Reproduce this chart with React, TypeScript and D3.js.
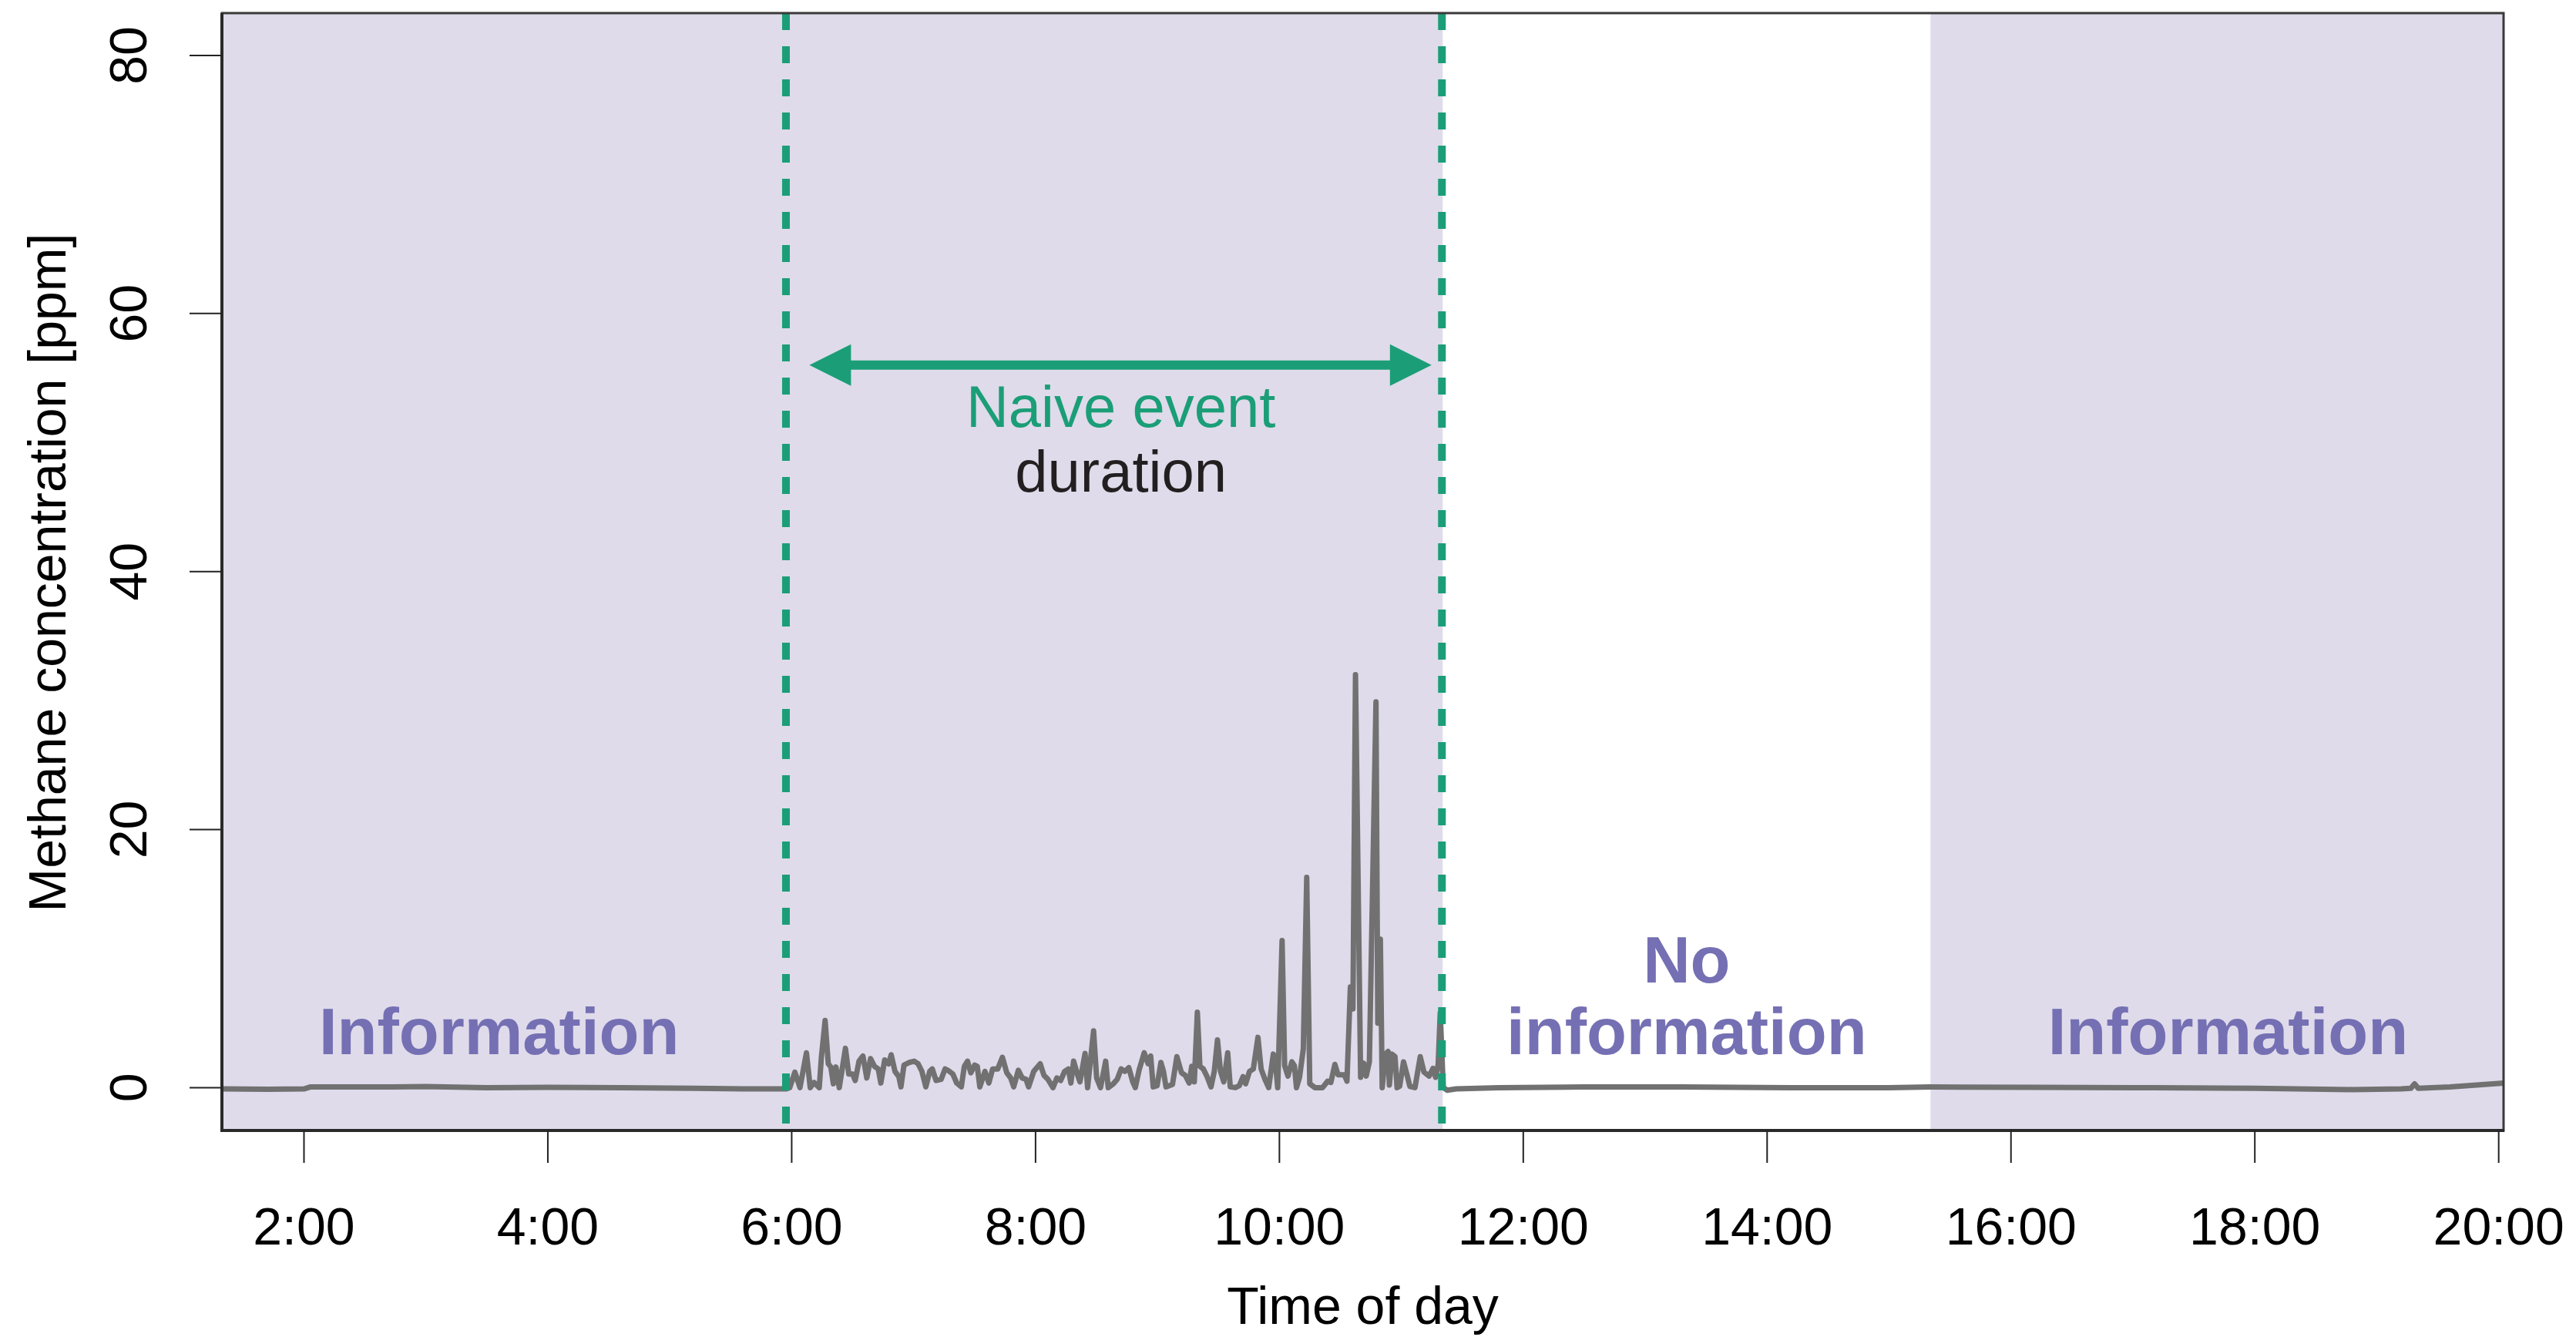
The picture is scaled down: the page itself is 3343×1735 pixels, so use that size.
import React from "react";
import * as d3 from "d3";

// ---- data ----
const xTickHours = [2, 4, 6, 8, 10, 12, 14, 16, 18, 20];
const xTickLabels = ["2:00", "4:00", "6:00", "8:00", "10:00", "12:00", "14:00", "16:00", "18:00", "20:00"];
const yTicks = [0, 20, 40, 60, 80];

// time of day (decimal hours) and methane concentration (ppm)
const timeHours = [
  1.327, 1.7, 2.0, 2.05, 2.6, 3.0, 3.5, 4.0, 4.6, 5.2, 5.6, 5.953,
  5.984, 6.026, 6.068, 6.121, 6.152, 6.184, 6.226, 6.243, 6.274, 6.3, 6.321, 6.342, 6.363, 6.39,
  6.441, 6.468, 6.5, 6.521, 6.552, 6.584, 6.616, 6.647, 6.679, 6.71, 6.731, 6.763, 6.795, 6.816,
  6.847, 6.879, 6.896, 6.921, 6.963, 7.005, 7.037, 7.068, 7.1, 7.132, 7.153, 7.184, 7.226, 7.258,
  7.28, 7.322, 7.353, 7.391, 7.416, 7.442, 7.469, 7.501, 7.522, 7.543, 7.585, 7.617, 7.648, 7.69,
  7.728, 7.764, 7.796, 7.821, 7.859, 7.89, 7.922, 7.943, 7.985, 8.038, 8.069, 8.101, 8.143, 8.175,
  8.206, 8.238, 8.269, 8.29, 8.312, 8.343, 8.364, 8.406, 8.427, 8.476, 8.501, 8.533, 8.575, 8.596,
  8.638, 8.67, 8.702, 8.733, 8.765, 8.797, 8.818, 8.849, 8.891, 8.923, 8.944, 8.965, 8.997, 9.028,
  9.049, 9.07, 9.123, 9.159, 9.197, 9.228, 9.26, 9.281, 9.302, 9.327, 9.348, 9.376, 9.407, 9.439,
  9.466, 9.492, 9.517, 9.544, 9.576, 9.597, 9.639, 9.671, 9.702, 9.723, 9.755, 9.786, 9.824, 9.85,
  9.881, 9.912, 9.95, 9.965, 9.986, 10.022, 10.043, 10.07, 10.102, 10.123, 10.14, 10.165, 10.196,
  10.224, 10.249, 10.291, 10.354, 10.396, 10.422, 10.455, 10.481, 10.533, 10.554, 10.582, 10.603,
  10.624, 10.666, 10.691, 10.712, 10.738, 10.792, 10.807, 10.828, 10.843, 10.87, 10.891, 10.902,
  10.923, 10.948, 10.965, 10.986, 11.018, 11.049, 11.07, 11.112, 11.155, 11.186, 11.228, 11.26,
  11.281, 11.302, 11.319, 11.344, 11.376,
  11.45, 11.8, 12.5, 13.3, 14.2, 15.0, 15.34, 16.2, 17.0, 18.0, 18.8, 19.2, 19.28, 19.31, 19.34,
  19.6, 20.04,
];
const methanePpm = [
  -0.1, -0.12, -0.1, 0.05, 0.05, 0.08, 0.0, 0.02, 0.0, -0.05, -0.1, -0.1,
  0.0, 1.2, 0.0, 2.7, 0.0, 0.4, 0.0, 2.3, 5.2, 1.85, 1.6, 0.3, 1.6, 0.0,
  3.05, 1.05, 1.05, 0.55, 2.05, 2.45, 0.75, 2.25, 1.65, 1.45, 0.36, 2.15, 1.85, 2.55,
  1.26, 0.85, 0.06, 1.75, 1.95, 2.05, 1.85, 1.26, 0.06, 1.26, 1.45, 0.55, 0.65, 1.45,
  1.35, 1.05, 0.36, 0.06, 1.65, 2.05, 1.15, 1.75, 1.65, 0.06, 1.26, 0.36, 1.45, 1.45,
  2.35, 1.15, 0.75, 0.06, 1.35, 0.75, 0.65, 0.06, 1.26, 1.85, 0.95, 0.65, 0.0, 0.75,
  0.55, 1.26, 1.45, 0.36, 2.05, 1.05, 0.45, 2.65, 0.0, 4.4, 0.75, 0.0, 2.05, 0.0,
  0.3, 0.65, 1.45, 1.26, 1.55, 0.45, 0.0, 1.35, 2.7, 1.85, 2.45, 0.06, 0.15, 1.95,
  1.26, 0.06, 0.25, 2.4, 1.15, 0.95, 0.36, 1.65, 0.45, 5.85, 1.65, 1.45, 0.85, 0.06,
  1.26, 3.7, 1.26, 0.45, 2.7, 0.06, 0.0, 0.15, 0.85, 0.3, 1.26, 1.45, 3.9, 1.45,
  0.65, 0.0, 2.6, 2.2, 0.0, 11.4, 1.7, 0.9, 2.0, 1.7, 0.0, 0.8, 3.0,
  16.3, 0.3, 0.0, 0.0, 0.5, 0.4, 1.8, 1.0, 1.0, 0.5, 7.8, 6.1,
  32.0, 0.8, 1.9, 0.9, 2.0, 29.9, 5.0, 11.5, 0.0, 2.6, 2.8, 0.2,
  2.6, 2.4, 0.0, 0.1, 2.0, 0.9, 0.1, 0.0, 2.4, 1.2, 0.9, 1.5,
  0.8, 1.8, 5.8, 0.0, -0.2,
  -0.1, 0.0, 0.05, 0.05, 0.0, 0.0, 0.05, 0.02, 0.0, -0.05, -0.15, -0.1, -0.05, 0.3, -0.05,
  0.05, 0.35,
];

// shaded "information" periods (hours)
const infoPeriods = [
  [1.327, 11.333],
  [15.34, 20.04],
];
const eventStart = 5.953;
const eventEnd = 11.333;
const arrowFrom = 6.145;
const arrowTo = 11.248;
const arrowPpm = 56;

const regionLabels = [
  { lines: ["Information"], hour: 3.6, ppm: [2.57] },
  { lines: ["No", "information"], hour: 13.34, ppm: [8.13, 2.57] },
  { lines: ["Information"], hour: 17.78, ppm: [2.57] },
];

// ---- layout ----
const W = 3343;
const H = 1735;
const L = 288, R = 3249, T = 17, B = 1467;
const FONT = "'Liberation Sans', Arial, Helvetica, sans-serif";
const SHADE = "#DFDBEA";
const PURPLE = "#7570B3";
const GREEN = "#1B9E77";
const LINE = "#717171";

export default function App() {
  const x = d3.scaleLinear().domain([1.327, 20.04]).range([L, R]);
  const y = d3.scaleLinear().domain([-3.32, 83.28]).range([B, T]);

  const pts: [number, number][] = timeHours.map((t, i) => [t, methanePpm[i]]);
  const line = d3
    .line<[number, number]>()
    .x((d) => x(d[0]))
    .y((d) => y(d[1]));

  const ay = y(arrowPpm);
  const ax1 = x(arrowFrom);
  const ax2 = x(arrowTo);
  const headL = 54;
  const headH = 27;
  const midX = x(8.7);

  return (
    <div>
      <style>{"body{margin:0}"}</style>
      <svg width={W} height={H} style={{ display: "block", background: "#fff" }} fontFamily={FONT}>
        <defs>
          <clipPath id="plotclip">
            <rect x={L} y={T} width={R - L} height={B - T} />
          </clipPath>
        </defs>
        {infoPeriods.map((p, i) => (
          <rect key={i} x={x(p[0])} y={T} width={x(p[1]) - x(p[0]) + (i === 0 ? 1 : 0)} height={B - T} fill={SHADE} />
        ))}

        {regionLabels.map((r, i) =>
          r.lines.map((s, j) => (
            <text
              key={i + "-" + j}
              x={x(r.hour)}
              y={y(r.ppm[j])}
              textAnchor="middle"
              fontSize={85}
              fontWeight="bold"
              fill={PURPLE}
            >
              {s}
            </text>
          ))
        )}

        <path d={line(pts) || ""} fill="none" stroke={LINE} strokeWidth={7} strokeLinejoin="round" clipPath="url(#plotclip)" />

        {[eventStart, eventEnd].map((h, i) => (
          <line key={i} x1={x(h)} x2={x(h)} y1={T} y2={B} stroke={GREEN} strokeWidth={10} strokeDasharray="22,21" />
        ))}

        {/* arrow */}
        <line x1={ax1 + headL - 2} x2={ax2 - headL + 2} y1={ay} y2={ay} stroke={GREEN} strokeWidth={12} />
        <path d={`M${ax1},${ay} L${ax1 + headL},${ay - headH} L${ax1 + headL},${ay + headH} Z`} fill={GREEN} />
        <path d={`M${ax2},${ay} L${ax2 - headL},${ay - headH} L${ax2 - headL},${ay + headH} Z`} fill={GREEN} />
        <text x={midX} y={y(51.2)} textAnchor="middle" fontSize={76} fill={GREEN}>
          Naive event
        </text>
        <text x={midX} y={y(46.2)} textAnchor="middle" fontSize={76} fill="#231F20">
          duration
        </text>

        {/* frame */}
        <rect x={L} y={T} width={R - L} height={B - T} fill="none" stroke="#3a3a3a" strokeWidth={3} />
        <line x1={L} x2={L} y1={T} y2={B + 2} stroke="#2a2a2a" strokeWidth={4} />
        <line x1={L - 2} x2={R + 1} y1={B} y2={B} stroke="#2a2a2a" strokeWidth={4} />

        {/* y axis */}
        {yTicks.map((v) => (
          <g key={v}>
            <line x1={L - 42} x2={L} y1={y(v)} y2={y(v)} stroke="#222" strokeWidth={2} />
            <text transform={`translate(190,${y(v)}) rotate(-90)`} textAnchor="middle" fontSize={68} fill="#000">
              {v}
            </text>
          </g>
        ))}
        <text transform={`translate(85,${743}) rotate(-90)`} textAnchor="middle" fontSize={68} fill="#000">
          Methane concentration [ppm]
        </text>

        {/* x axis */}
        {xTickHours.map((h, i) => (
          <g key={h}>
            <line x1={x(h)} x2={x(h)} y1={B} y2={B + 42} stroke="#222" strokeWidth={2} />
            <text x={x(h)} y={1615} textAnchor="middle" fontSize={68} fill="#000">
              {xTickLabels[i]}
            </text>
          </g>
        ))}
        <text x={(L + R) / 2} y={1718} textAnchor="middle" fontSize={68} fill="#000">
          Time of day
        </text>
      </svg>
    </div>
  );
}
